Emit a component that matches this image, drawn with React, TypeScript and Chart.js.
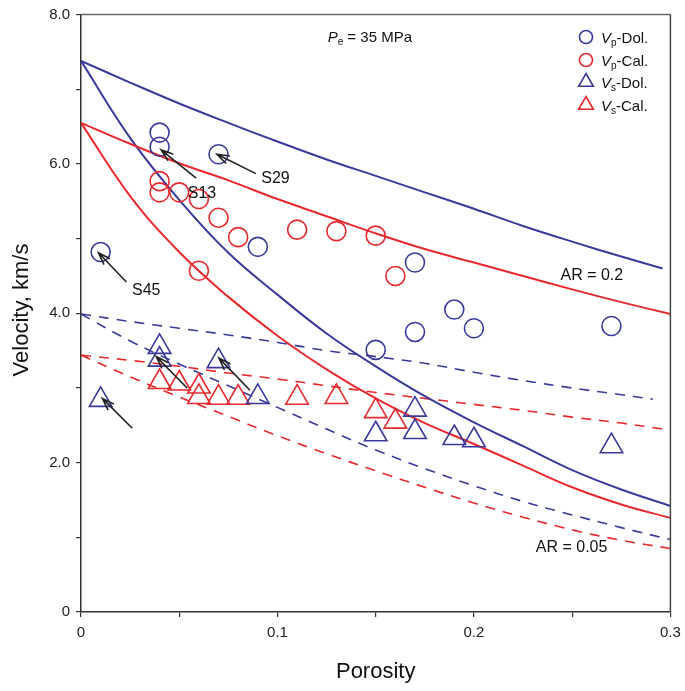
import React, { useEffect, useRef } from 'react';
import { Chart, registerables } from 'chart.js';
Chart.register(...registerables);

const BLUE = '#3a3a9c';
const RED = '#e8292d';
const FONT = 'Arial, "Liberation Sans", sans-serif';

// Model curves (porosity grid and velocities, km/s)
const curvePorosity = [0, 0.025, 0.05, 0.075, 0.1, 0.125, 0.15, 0.175, 0.2, 0.225, 0.25, 0.275, 0.3];
const vpDolAR02Porosity = [0, 0.025, 0.05, 0.075, 0.1, 0.125, 0.15, 0.175, 0.2, 0.225, 0.25, 0.275, 0.296];
const vsDolAR02Porosity = [0, 0.025, 0.05, 0.075, 0.1, 0.125, 0.15, 0.175, 0.2, 0.225, 0.25, 0.275, 0.291];
const vsCalAR02Porosity = [0, 0.025, 0.05, 0.075, 0.1, 0.125, 0.15, 0.175, 0.2, 0.225, 0.25, 0.275, 0.296];
const vpDolAR02 = [7.38, 7.09, 6.81, 6.55, 6.30, 6.06, 5.84, 5.62, 5.40, 5.17, 4.96, 4.76, 4.60];
const vpCalAR02 = [6.55, 6.27, 6.01, 5.78, 5.53, 5.30, 5.07, 4.86, 4.68, 4.50, 4.32, 4.15, 3.99];
const vpDolAR005 = [7.38, 6.35, 5.52, 4.81, 4.25, 3.73, 3.29, 2.89, 2.54, 2.22, 1.90, 1.64, 1.42];
const vpCalAR005 = [6.55, 5.57, 4.82, 4.22, 3.70, 3.25, 2.86, 2.53, 2.25, 1.96, 1.67, 1.44, 1.26];
const vsDolAR02 = [3.99, 3.89, 3.80, 3.71, 3.61, 3.50, 3.42, 3.33, 3.21, 3.10, 3.00, 2.91, 2.85];
const vsCalAR02 = [3.44, 3.37, 3.29, 3.20, 3.12, 3.03, 2.94, 2.86, 2.78, 2.70, 2.61, 2.53, 2.45];
const vsDolAR005 = [3.99, 3.63, 3.32, 3.03, 2.74, 2.45, 2.17, 1.92, 1.69, 1.48, 1.30, 1.13, 0.97];
const vsCalAR005 = [3.44, 3.15, 2.88, 2.62, 2.36, 2.12, 1.89, 1.67, 1.46, 1.27, 1.10, 0.96, 0.85];

// Measured samples
const vpDolPhi = [0.01, 0.04, 0.04, 0.07, 0.09, 0.15, 0.17, 0.17, 0.19, 0.20, 0.27];
const vpDolV = [4.82, 6.42, 6.23, 6.13, 4.89, 3.51, 4.68, 3.75, 4.05, 3.80, 3.83];
const vpCalPhi = [0.04, 0.04, 0.05, 0.06, 0.06, 0.07, 0.08, 0.11, 0.13, 0.15, 0.16];
const vpCalV = [5.77, 5.62, 5.62, 5.53, 4.57, 5.28, 5.02, 5.12, 5.10, 5.04, 4.50];
const vsDolPhi = [0.01, 0.04, 0.04, 0.07, 0.09, 0.15, 0.17, 0.17, 0.19, 0.20, 0.27];
const vsDolV = [2.84, 3.55, 3.38, 3.36, 2.88, 2.38, 2.71, 2.41, 2.33, 2.30, 2.22];
const vsCalPhi = [0.04, 0.05, 0.06, 0.06, 0.07, 0.08, 0.11, 0.13, 0.15, 0.16];
const vsCalV = [3.08, 3.06, 3.02, 2.88, 2.87, 2.87, 2.87, 2.88, 2.69, 2.55];

const xTicks = [0, 0.1, 0.2, 0.3];
const yTicks = [0, 2, 4, 6, 8];

const legendLabels = ['Dol.', 'Cal.', 'Dol.', 'Cal.'];

const toPts = (xs: number[], ys: number[]) => xs.map((x, i) => ({ x, y: ys[i] }));

type Part = { t: string; italic?: boolean; sub?: boolean };
function drawRich(ctx: CanvasRenderingContext2D, parts: Part[], x: number, y: number, size: number, align: 'left' | 'center') {
  const fontOf = (p: Part) => `${p.italic ? 'italic ' : ''}${p.sub ? Math.round(size * 0.65) : size}px ${FONT}`;
  let total = 0;
  for (const p of parts) { ctx.font = fontOf(p); total += ctx.measureText(p.t).width; }
  let cx = align === 'center' ? x - total / 2 : x;
  ctx.textAlign = 'left';
  ctx.textBaseline = 'alphabetic';
  for (const p of parts) {
    ctx.font = fontOf(p);
    ctx.fillText(p.t, cx, p.sub ? y + size * 0.2 : y);
    cx += ctx.measureText(p.t).width;
  }
}

function arrow(ctx: CanvasRenderingContext2D, x1: number, y1: number, x2: number, y2: number) {
  ctx.beginPath();
  ctx.moveTo(x1, y1);
  ctx.lineTo(x2, y2);
  const a = Math.atan2(y2 - y1, x2 - x1);
  const L = 13, s = 0.33;
  ctx.moveTo(x2 - L * Math.cos(a - s), y2 - L * Math.sin(a - s));
  ctx.lineTo(x2, y2);
  ctx.lineTo(x2 - L * Math.cos(a + s), y2 - L * Math.sin(a + s));
  ctx.stroke();
}

const overlay = {
  id: 'overlay',
  afterDraw(chart: any) {
    const { ctx, chartArea: ca, scales } = chart;
    const X = (v: number) => scales.x.getPixelForValue(v);
    const Y = (v: number) => scales.y.getPixelForValue(v);
    ctx.save();
    // frame
    ctx.strokeStyle = '#666';
    ctx.lineWidth = 1.5;
    ctx.beginPath();
    ctx.moveTo(ca.left, ca.top);
    ctx.lineTo(ca.right, ca.top);
    ctx.stroke();
    ctx.strokeStyle = '#444';
    ctx.beginPath();
    ctx.moveTo(ca.right, ca.top);
    ctx.lineTo(ca.right, ca.bottom);
    ctx.stroke();

    // arrows
    ctx.strokeStyle = '#222';
    ctx.lineWidth = 1.6;
    const arrows: [number, number, number, number][] = [
      [0.089, 5.87, 0.0692, 6.13],
      [0.0586, 5.81, 0.0408, 6.19],
      [0.0231, 4.42, 0.0089, 4.81],
      [0.0261, 2.46, 0.0109, 2.86],
      [0.054, 3.0, 0.0383, 3.42],
      [0.086, 2.97, 0.0702, 3.40],
    ];
    for (const [a, b, c, d] of arrows) arrow(ctx, X(a), Y(b), X(c), Y(d));

    // annotations
    ctx.fillStyle = '#111';
    drawRich(ctx, [{ t: 'S29' }], X(0.099), Y(5.82) + 6, 16, 'center');
    drawRich(ctx, [{ t: 'S13' }], X(0.0616), Y(5.62) + 6, 16, 'center');
    drawRich(ctx, [{ t: 'S45' }], X(0.0332), Y(4.33) + 6, 16, 'center');
    drawRich(ctx, [{ t: 'AR = 0.2' }], X(0.26), Y(4.53) + 6, 16, 'center');
    drawRich(ctx, [{ t: 'AR = 0.05' }], X(0.2497), Y(0.88) + 6, 16, 'center');
    drawRich(ctx, [{ t: 'P', italic: true }, { t: 'e', sub: true }, { t: ' = 35 MPa' }], X(0.147), Y(7.71) + 6, 15, 'center');

    // legend
    const lx = 586, ly = [37, 60, 82, 105];
    const lcol = [BLUE, RED, BLUE, RED];
    for (let i = 0; i < 4; i++) {
      ctx.strokeStyle = lcol[i];
      ctx.lineWidth = 1.6;
      ctx.beginPath();
      if (i < 2) {
        ctx.arc(lx, ly[i], 6.5, 0, Math.PI * 2);
      } else {
        const r = 8.5;
        ctx.moveTo(lx, ly[i] - r);
        ctx.lineTo(lx + r * Math.sin(2 * Math.PI / 3), ly[i] + r / 2);
        ctx.lineTo(lx - r * Math.sin(2 * Math.PI / 3), ly[i] + r / 2);
        ctx.closePath();
      }
      ctx.stroke();
      ctx.fillStyle = '#111';
      drawRich(ctx, [{ t: 'V', italic: true }, { t: i < 2 ? 'p' : 's', sub: true }, { t: '-' + legendLabels[i] }], 601, ly[i] + 5.5, 15, 'left');
    }

    // axis titles
    ctx.fillStyle = '#111';
    ctx.font = `22px ${FONT}`;
    ctx.textAlign = 'center';
    ctx.textBaseline = 'middle';
    ctx.fillText('Porosity', (ca.left + ca.right) / 2, 672);
    ctx.translate(22, 310);
    ctx.rotate(-Math.PI / 2);
    ctx.fillText('Velocity, km/s', 0, 0);
    ctx.restore();
  },
};

export default function App() {
  const ref = useRef<HTMLCanvasElement>(null);
  useEffect(() => {
    if (!ref.current) return;
    const line = (xs: number[], ys: number[], color: string, dashed: boolean) => ({
      type: 'line' as const,
      data: toPts(xs, ys),
      borderColor: color,
      borderWidth: dashed ? 1.6 : 2,
      borderDash: dashed ? [10, 8] : [],
      pointRadius: 0,
      fill: false,
      tension: 0.4,
      order: 5,
    });
    const pts = (xs: number[], ys: number[], color: string, style: string, r: number) => ({
      type: 'scatter' as const,
      data: toPts(xs, ys),
      borderColor: color,
      backgroundColor: 'rgba(0,0,0,0)',
      pointStyle: style,
      pointRadius: r,
      pointHoverRadius: r,
      pointBorderWidth: 1.6,
      showLine: false,
      order: 0,
    });
    const chart = new Chart(ref.current, {
      type: 'scatter',
      data: {
        datasets: [
          line(vpDolAR02Porosity, vpDolAR02, BLUE, false),
          line(curvePorosity, vpCalAR02, RED, false),
          line(curvePorosity, vpDolAR005, BLUE, false),
          line(curvePorosity, vpCalAR005, RED, false),
          line(vsDolAR02Porosity, vsDolAR02, BLUE, true),
          line(vsCalAR02Porosity, vsCalAR02, RED, true),
          line(curvePorosity, vsDolAR005, BLUE, true),
          line(curvePorosity, vsCalAR005, RED, true),
          pts(vpDolPhi, vpDolV, BLUE, 'circle', 9.5),
          pts(vpCalPhi, vpCalV, RED, 'circle', 9.5),
          pts(vsDolPhi, vsDolV, BLUE, 'triangle', 13),
          pts(vsCalPhi, vsCalV, RED, 'triangle', 13),
        ] as any,
      },
      options: {
        animation: false,
        responsive: false,
        devicePixelRatio: 1,
        layout: { padding: { top: 11, right: 12, left: 0, bottom: 0 } },
        plugins: { legend: { display: false }, tooltip: { enabled: false } },
        events: [],
        scales: {
          x: {
            type: 'linear',
            min: 0,
            max: 0.3,
            afterFit: (s: any) => { s.height = 79; s.paddingLeft = 0; s.paddingRight = 0; },
            afterBuildTicks: (s: any) => {
              const t = [];
              for (let i = 0; i <= 6; i++) t.push({ value: i * 0.05 });
              s.ticks = t;
            },
            ticks: {
              color: '#222',
              font: { family: FONT, size: 15 },
              padding: 7,
              maxRotation: 0,
              autoSkip: false,
              callback: (v: any) => {
                const n = Number(v);
                const hit = xTicks.find((t) => Math.abs(t - n) < 1e-6);
                if (hit === undefined) return '';
                return hit === 0 ? '0' : hit.toFixed(1);
              },
            },
            grid: { drawOnChartArea: false, drawTicks: true, tickLength: 5, color: '#333', lineWidth: 1.2 },
            border: { display: true, color: '#333', width: 1.5 },
          },
          y: {
            type: 'linear',
            min: 0,
            max: 8,
            afterFit: (s: any) => { s.width = 81; s.paddingTop = 0; s.paddingBottom = 0; },
            ticks: {
              stepSize: 1,
              color: '#222',
              font: { family: FONT, size: 15, lineHeight: 0.6 },
              padding: 6,
              autoSkip: false,
              callback: (v: any) => {
                const n = Number(v);
                const hit = yTicks.find((t) => Math.abs(t - n) < 1e-6);
                if (hit === undefined) return '';
                return hit === 0 ? '0' : hit.toFixed(1);
              },
            },
            grid: { drawOnChartArea: false, drawTicks: true, tickLength: 5, color: '#333', lineWidth: 1.2 },
            border: { display: true, color: '#333', width: 1.5 },
          },
        },
      },
      plugins: [overlay],
    });
    return () => chart.destroy();
  }, []);
  return (
    <canvas
      ref={ref}
      width={685}
      height={691}
      style={{ position: 'absolute', left: 0, top: 0, width: 685, height: 691, display: 'block', background: '#fff' }}
    />
  );
}
